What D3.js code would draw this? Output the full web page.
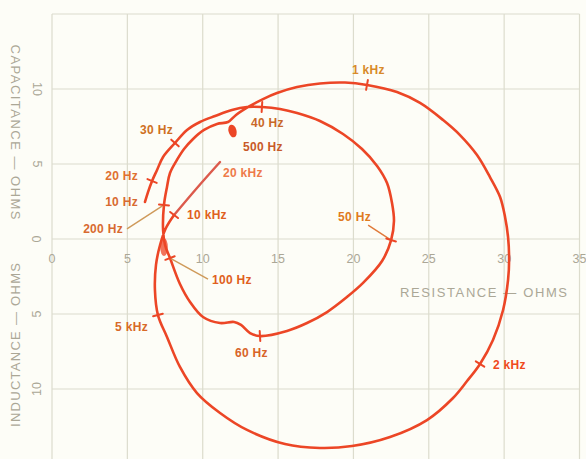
<!DOCTYPE html>
<html>
<head>
<meta charset="utf-8">
<script src="https://cdn.jsdelivr.net/npm/d3@7"></script>
<style>
  html, body { margin: 0; padding: 0; background: #fdfdf7; }
  svg { display: block; }
</style>
</head>
<body>
<svg id="chart" width="586" height="459"></svg>
<script>
// Impedance locus of a loudspeaker network, 10 Hz to 20 kHz.
// Resistance (ohms) on x; reactance (ohms) on y, capacitive up, inductive down.
const resistance = [
  6.17, 6.37, 6.64, 6.97, 7.37, 8.16, 8.96, 9.82, 10.82, 11.94,
  12.94, 13.93, 15.13, 16.26,
  17.78, 19.31, 20.57, 21.57, 22.23, 22.56, 22.69,
  22.5,
  21.9, 20.64, 19.57, 18.25, 16.92, 15.59,
  13.8,
  13.14, 12.54, 12.08, 11.15, 10.02, 9.16, 8.49,
  7.83,
  7.5, 7.37,
  7.43,
  7.63, 7.83, 8.29, 8.76, 9.36, 10.09, 10.95,
  11.68,
  12.21, 13.14, 14.0, 14.93, 16.26, 17.78, 19.44,
  20.9,
  22.89, 24.42, 25.95, 27.07, 28.2, 29.06, 29.73, 30.06, 30.26, 30.33, 30.26, 29.93, 29.26,
  28.4,
  27.54, 26.61, 24.88, 22.43, 19.91, 17.78, 15.46, 12.94, 11.15, 9.62, 8.49, 7.63,
  7.03,
  6.83, 6.9, 7.17, 7.56,
  8.1,
  9.62,
  11.15
];
const reactance = [
  2.47, 3.13, 3.87, 4.6, 5.47, 6.4, 7.27, 7.8, 8.2, 8.6,
  8.8, 8.8, 8.67, 8.4,
  7.87, 7.0, 6.0, 4.87, 3.73, 2.4, 1.2,
  -0.07,
  -1.47, -2.93, -3.87, -4.87, -5.6, -6.13,
  -6.47,
  -6.27, -5.73, -5.53, -5.6, -5.2, -4.2, -3.0,
  -1.27,
  -0.4, 0.6,
  2.27,
  3.47, 4.4, 5.27, 6.0, 6.67, 7.27, 7.67,
  7.8,
  8.27, 8.87, 9.33, 9.73, 10.13, 10.37, 10.43,
  10.27,
  9.8, 9.07, 7.93, 6.93, 5.6, 4.13, 2.8, 1.47, 0.13, -1.4, -2.73, -4.73, -6.73,
  -8.33,
  -9.47, -10.6, -12.07, -13.2, -13.8, -13.93, -13.67, -12.73, -11.6, -10.27, -8.53, -6.53,
  -5.07,
  -3.4, -1.73, -0.4, 0.73,
  1.6,
  3.4,
  5.13
];
// Frequency markers and where they sit along the locus
const freqLabels = ["10 Hz", "20 Hz", "30 Hz", "40 Hz", "50 Hz", "60 Hz", "100 Hz",
                    "200 Hz", "500 Hz", "1 kHz", "2 kHz", "5 kHz", "10 kHz", "20 kHz"];
const freqIndex = [0, 2, 5, 11, 21, 28, 36, 39, 47, 55, 69, 82, 87, 89];

const xTicks = [0, 5, 10, 15, 20, 25, 30, 35];
const yTicks = [10, 5, 0, -5, -10];
const gridX = [0, 5, 10, 15, 20, 25, 30, 35];
const gridY = [15, 10, 5, 0, -5, -10];

// ---- layout ----
const W = 586, H = 459;
const svg = d3.select("#chart");
const x = d3.scaleLinear().domain([0, 35]).range([52, 579.5]);
const y = d3.scaleLinear().domain([-15, 15]).range([464, 14]);

const gridColor = "#dcdccd";
const axisText = "#aba796";
const curveColor = "#ec4626";

// grid
const grid = svg.append("g");
grid.selectAll("line.v").data(gridX).join("line")
  .attr("x1", d => x(d)).attr("x2", d => x(d))
  .attr("y1", y(15)).attr("y2", H)
  .attr("stroke", gridColor).attr("stroke-width", 1.2);
grid.selectAll("line.h").data(gridY).join("line")
  .attr("x1", x(0)).attr("x2", x(35))
  .attr("y1", d => y(d)).attr("y2", d => y(d))
  .attr("stroke", gridColor).attr("stroke-width", 1.2);

// x tick labels along the zero-reactance line
svg.append("g").selectAll("text").data(xTicks).join("text")
  .attr("x", d => x(d)).attr("y", y(0) + 24)
  .attr("text-anchor", "middle")
  .attr("font-family", "Liberation Sans, Arial, sans-serif")
  .attr("font-size", 12.5).attr("fill", axisText)
  .text(d => d);

// y tick labels: capacitive side reads downward, inductive side upward
svg.append("g").selectAll("text").data(yTicks).join("text")
  .attr("transform", d => `translate(37,${y(d)}) rotate(${d > 0 ? 90 : -90})`)
  .attr("text-anchor", "middle").attr("dominant-baseline", "central")
  .attr("font-family", "Liberation Sans, Arial, sans-serif")
  .attr("font-size", 12.5).attr("fill", axisText)
  .text(d => Math.abs(d));

// axis titles
const titleFont = "Liberation Sans, Arial, sans-serif";
svg.append("text")
  .attr("x", 400).attr("y", 297)
  .attr("font-family", titleFont).attr("font-size", 13).attr("fill", axisText)
  .attr("textLength", 167).attr("lengthAdjust", "spacing")
  .text("RESISTANCE — OHMS");
svg.append("text")
  .attr("transform", `translate(15,132) rotate(90)`)
  .attr("text-anchor", "middle").attr("dominant-baseline", "central")
  .attr("font-family", titleFont).attr("font-size", 13).attr("fill", axisText)
  .attr("textLength", 175).attr("lengthAdjust", "spacing")
  .text("CAPACITANCE — OHMS");
svg.append("text")
  .attr("transform", `translate(15,345) rotate(-90)`)
  .attr("text-anchor", "middle").attr("dominant-baseline", "central")
  .attr("font-family", titleFont).attr("font-size", 13).attr("fill", axisText)
  .attr("textLength", 164).attr("lengthAdjust", "spacing")
  .text("INDUCTANCE — OHMS");

// ---- locus ----
const pts = resistance.map((r, i) => [x(r), y(reactance[i])]);
const line = d3.line().curve(d3.curveCatmullRom.alpha(0.5));
const iTen = freqIndex[freqLabels.indexOf("10 kHz")];
const iHundred = freqIndex[freqLabels.indexOf("100 Hz")];

// ink pooled where the 100 Hz and 5 kHz stretches overlap
svg.append("ellipse")
  .attr("cx", pts[iHundred][0] - 6).attr("cy", pts[iHundred][1] - 11)
  .attr("rx", 3.8).attr("ry", 9)
  .attr("fill", "#ee5a40").attr("opacity", 0.85);

svg.append("path")
  .attr("d", line(pts.slice(0, iTen + 1)))
  .attr("fill", "none")
  .attr("stroke", curveColor)
  .attr("stroke-width", 2.6)
  .attr("stroke-linejoin", "round")
  .attr("stroke-linecap", "round");
// the last stretch, 10 kHz to 20 kHz, drawn a little lighter
svg.append("path")
  .attr("d", line(pts.slice(iTen)))
  .attr("fill", "none")
  .attr("stroke", "#dc5a4c")
  .attr("stroke-width", 2.4)
  .attr("stroke-linecap", "round");

// label placement (pixel offsets from each marker) and colours
const labelStyle = {
  "10 Hz":  { dx: -7,  dy: 4,   anchor: "end",   color: "#d86a30" },
  "20 Hz":  { dx: -14, dy: -1,  anchor: "end",   color: "#e07030" },
  "30 Hz":  { dx: -2,  dy: -9,  anchor: "end",   color: "#cf7022" },
  "40 Hz":  { dx: -11, dy: 20,  anchor: "start", color: "#c96828" },
  "50 Hz":  { dx: -53, dy: -19, anchor: "start", color: "#e07a20" },
  "60 Hz":  { dx: -25, dy: 21,  anchor: "start", color: "#d86428" },
  "100 Hz": { dx: 42,  dy: 26,  anchor: "start", color: "#e06020" },
  "200 Hz": { dx: -41, dy: 28,  anchor: "end",   color: "#d86a30" },
  "500 Hz": { dx: 15,  dy: 29,  anchor: "start", color: "#c85a28" },
  "1 kHz":  { dx: -15, dy: -11, anchor: "start", color: "#d88a2a" },
  "2 kHz":  { dx: 13,  dy: 5,   anchor: "start", color: "#f04a20" },
  "5 kHz":  { dx: -10, dy: 16,  anchor: "end",   color: "#d86a28" },
  "10 kHz": { dx: 13,  dy: 4,   anchor: "start", color: "#e06020" },
  "20 kHz": { dx: 3,   dy: 15,  anchor: "start", color: "#ee7a4a" }
};
// leader lines from marker toward its label (label-side end offset)
const leaders = {
  "50 Hz":  [-23, -15],
  "100 Hz": [38, 21],
  "200 Hz": [-37, 24]
};
const noTick = new Set(["10 Hz", "500 Hz", "20 kHz"]);

const marks = svg.append("g");
freqLabels.forEach((lab, k) => {
  const i = freqIndex[k];
  const p = pts[i];
  const s = labelStyle[lab];

  if (leaders[lab]) {
    const [lx, ly] = leaders[lab];
    marks.append("line")
      .attr("x1", p[0]).attr("y1", p[1])
      .attr("x2", p[0] + lx).attr("y2", p[1] + ly)
      .attr("stroke", lab === "50 Hz" ? "#e07a3a" : "#cf9a5a")
      .attr("stroke-width", 1.4);
  }

  if (!noTick.has(lab)) {
    const a = pts[Math.max(0, i - 1)], b = pts[Math.min(pts.length - 1, i + 1)];
    const dx = b[0] - a[0], dy = b[1] - a[1];
    const len = Math.hypot(dx, dy) || 1;
    const nx = -dy / len, ny = dx / len;
    const h = 5;
    marks.append("line")
      .attr("x1", p[0] - nx * h).attr("y1", p[1] - ny * h)
      .attr("x2", p[0] + nx * h).attr("y2", p[1] + ny * h)
      .attr("stroke", curveColor).attr("stroke-width", 2)
      .attr("stroke-linecap", "round");
  }

  if (lab === "500 Hz") {
    // small teardrop that hangs under the locus at 500 Hz
    marks.append("ellipse")
      .attr("cx", p[0] + 4.5).attr("cy", p[1] + 9)
      .attr("rx", 4).attr("ry", 6.5)
      .attr("transform", `rotate(-15,${p[0] + 4.5},${p[1] + 9})`)
      .attr("fill", curveColor);
  }

  marks.append("text")
    .attr("x", p[0] + s.dx).attr("y", p[1] + s.dy)
    .attr("text-anchor", s.anchor)
    .attr("font-family", "Liberation Sans, Arial, sans-serif")
    .attr("font-weight", "bold")
    .attr("font-size", 12)
    .attr("letter-spacing", 0.3)
    .attr("fill", s.color)
    .text(lab);
});
</script>
</body>
</html>
